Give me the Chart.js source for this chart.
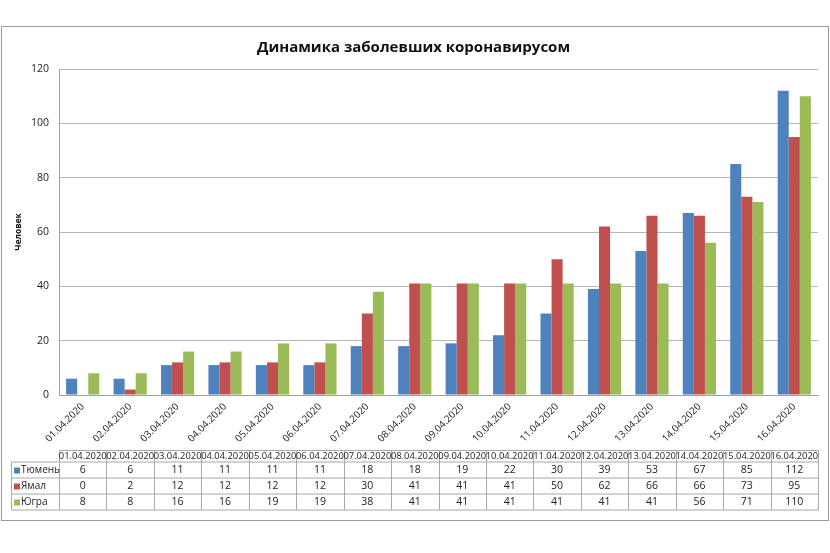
<!DOCTYPE html>
<html>
<head>
<meta charset="utf-8">
<script src="https://cdn.jsdelivr.net/npm/chart.js@4/dist/chart.umd.min.js"></script>
<style>
  html,body{margin:0;padding:0;background:#fff;}
  #wrap{width:830px;height:553px;position:relative;}
</style>
</head>
<body>
<div id="wrap"><canvas id="c" width="830" height="553"></canvas></div>
<script>
const categories = ["01.04.2020","02.04.2020","03.04.2020","04.04.2020","05.04.2020","06.04.2020","07.04.2020","08.04.2020","09.04.2020","10.04.2020","11.04.2020","12.04.2020","13.04.2020","14.04.2020","15.04.2020","16.04.2020"];
const seriesNames = ["Тюмень","Ямал","Югра"];
const tyumen = [6,6,11,11,11,11,18,18,19,22,30,39,53,67,85,112];
const yamal  = [0,2,12,12,12,12,30,41,41,41,50,62,66,66,73,95];
const yugra  = [8,8,16,16,19,19,38,41,41,41,41,41,41,56,71,110];
const yTicks = [0,20,40,60,80,100,120];
const titleText = "Динамика заболевших коронавирусом";
const yAxisTitle = "Человек";

const colors = ["#4F81BD","#C0504D","#9BBB59"];
const seriesData = [tyumen, yamal, yugra];
const FONT = "'Open Sans', 'DejaVu Sans', sans-serif";

const framePlugin = {
  id:'frame',
  beforeDraw(chart){
    const ctx = chart.ctx;
    ctx.save();
    ctx.fillStyle = '#fff';
    ctx.fillRect(0,0,chart.width,chart.height);
    ctx.strokeStyle = '#9a9a9a';
    ctx.lineWidth = 1;
    ctx.strokeRect(1.5, 26.5, 827, 494);
    ctx.restore();
  }
};

const tablePlugin = {
  id:'datatable',
  afterDraw(chart){
    const ctx = chart.ctx;
    const xs = chart.scales.x;
    const area = chart.chartArea;
    const n = categories.length;
    const colW = (area.right - area.left) / n;
    const headTop = area.bottom + 55.5;
    const headH = 11.5;
    const rowH = 16;
    const labelLeft = 11.5;
    const left = Math.round(area.left) + 0.5;
    ctx.save();
    ctx.strokeStyle = '#a8a8a8';
    ctx.lineWidth = 1;
    const rows = seriesData.length;
    const bottom = headTop + headH + rows*rowH;
    ctx.beginPath();
    ctx.moveTo(left, headTop); ctx.lineTo(area.right+0.5, headTop);
    for (let r=0; r<=rows; r++){
      const y = headTop + headH + r*rowH;
      ctx.moveTo(labelLeft, y); ctx.lineTo(area.right+0.5, y);
    }
    ctx.moveTo(labelLeft, headTop+headH); ctx.lineTo(labelLeft, bottom);
    for (let i=0;i<=n;i++){
      const x = (i<n ? xs.getPixelForTick(i) - colW/2 : xs.getPixelForTick(n-1) + colW/2);
      const xx = Math.round(x)+0.5;
      ctx.moveTo(xx, headTop); ctx.lineTo(xx, bottom);
    }
    ctx.stroke();
    ctx.fillStyle = '#222';
    ctx.textAlign = 'center';
    ctx.textBaseline = 'middle';
    ctx.font = "9.4px " + FONT;
    for (let i=0;i<n;i++){
      const cx = xs.getPixelForTick(i);
      ctx.fillText(categories[i], cx, headTop + headH/2 + 0.5);
    }
    for (let r=0;r<rows;r++){
      const cy = headTop + headH + r*rowH + rowH/2 + 0.5;
      ctx.font = "10.5px " + FONT;
      for (let i=0;i<n;i++){
        ctx.fillText(String(seriesData[r][i]), xs.getPixelForTick(i), cy);
      }
      ctx.fillStyle = colors[r];
      ctx.fillRect(14, cy-3, 6, 6);
      ctx.fillStyle = '#222';
      ctx.textAlign = 'left';
      ctx.font = "10px " + FONT;
      ctx.fillText(seriesNames[r], 21, cy);
      ctx.textAlign = 'center';
    }
    ctx.restore();
  }
};

new Chart(document.getElementById('c'), {
  type:'bar',
  data:{
    labels: categories,
    datasets: seriesNames.map((name,i)=>({
      label:name,
      data:seriesData[i],
      backgroundColor:colors[i],
      borderWidth:0,
      barPercentage:1.0,
      categoryPercentage:0.7
    }))
  },
  options:{
    responsive:false,
    animation:false,
    devicePixelRatio:1,
    layout:{padding:{left:9, right:12, top:30, bottom:108}},
    plugins:{
      legend:{display:false},
      tooltip:{enabled:false},
      title:{
        display:true,
        text:titleText,
        color:'#111',
        font:{family:FONT, size:15, weight:'bold'},
        padding:{top:9, bottom:12}
      }
    },
    scales:{
      x:{
        grid:{display:false, drawTicks:false},
        border:{color:'#a0a0a0'},
        ticks:{
          autoSkip:false, minRotation:45, maxRotation:45,
          color:'#222', padding:6,
          font:{family:FONT, size:9.8}
        },
        afterFit(s){ s.height = 50; }
      },
      y:{
        min:0, max:120,
        afterBuildTicks(s){ s.ticks = yTicks.map(v=>({value:v})); },
        grid:{color:'#b5b5b5', drawTicks:false},
        border:{color:'#a0a0a0'},
        ticks:{color:'#222', padding:10, font:{family:FONT, size:10.5}},
        title:{display:true, text:yAxisTitle, color:'#111', font:{family:FONT, size:8.5, weight:'bold'}, padding:{top:4,bottom:4}},
        afterFit(s){ s.width = 50; }
      }
    }
  },
  plugins:[framePlugin, tablePlugin]
});
</script>
</body>
</html>
